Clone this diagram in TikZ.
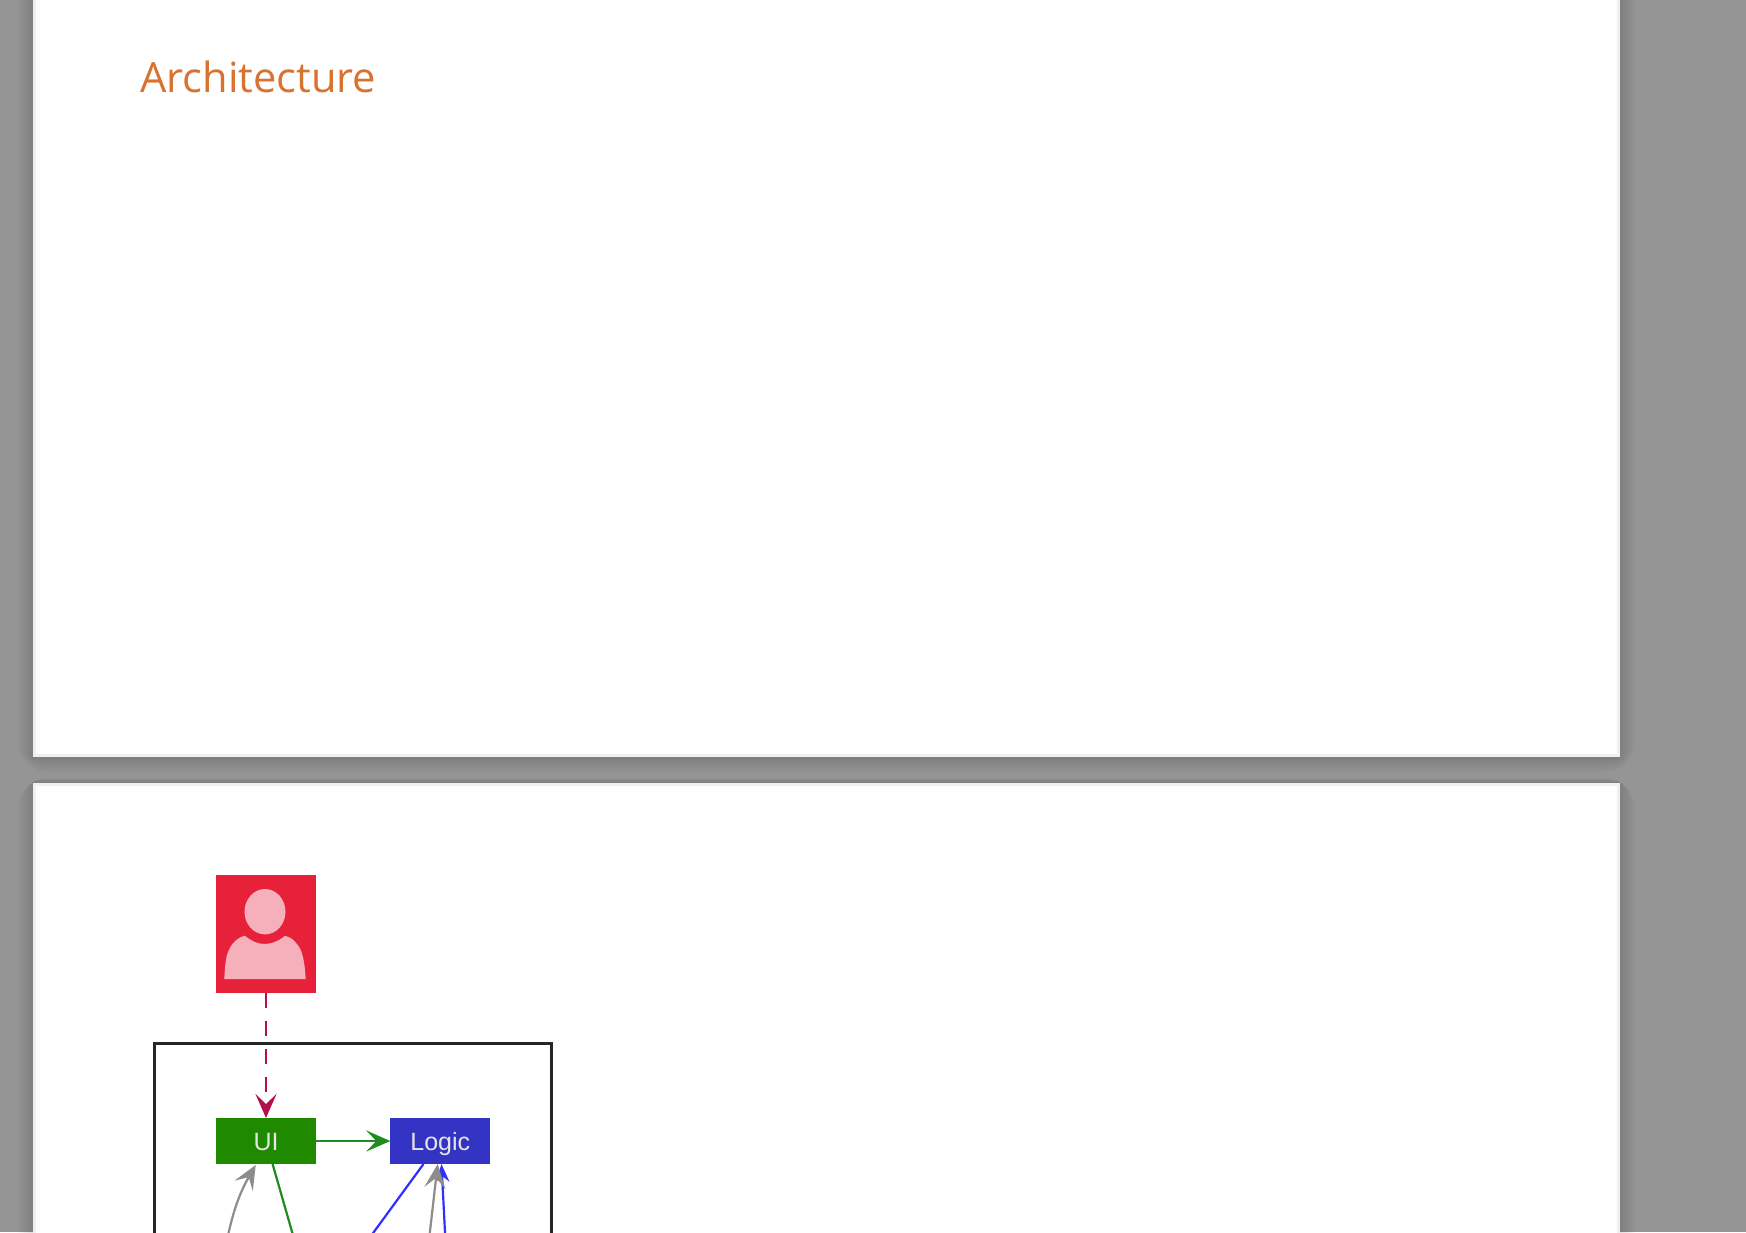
\documentclass[tikz,border=0pt]{standalone}
\usepackage{fontspec}
\setmainfont{Liberation Sans}
\newfontfamily\titlefont{Open Sans}
\usetikzlibrary{arrows.meta}
\definecolor{desk}{HTML}{959595}
\definecolor{sheetedge}{HTML}{F0F0F0}
\definecolor{heading}{HTML}{D9722F}
\definecolor{userred}{HTML}{E8213A}
\definecolor{userpink}{HTML}{F5B0BC}
\definecolor{uigreen}{HTML}{1F8A00}
\definecolor{logicblue}{HTML}{3333C4}
\definecolor{usercrimson}{HTML}{B0104C}
\definecolor{linegreen}{HTML}{1E8C1E}
\definecolor{lineblue}{HTML}{3030FF}

\begin{document}
\begin{tikzpicture}[x=0.5pt,y=-0.5pt,
            sheet/.style={draw=sheetedge,fill=white,line width=1.5pt},
            unit/.style={minimum width=50pt,minimum height=23pt,inner sep=0pt,outer sep=0pt,
              text=white!90!black,text height=9.3pt,text depth=0pt,font=\fontsize{12.5}{14}\selectfont},
            arrow/.style={-{Stealth[length=12pt,width=10.5pt,inset=5pt]},line width=1.1pt},
            smallarrow/.style={-{Stealth[length=9pt,width=7pt,inset=3pt]},line width=1.1pt}
          ]
          \useasboundingbox (0,0) rectangle (1746,1232);
          \clip (0,0) rectangle (1746,1232);
          \fill[desk] (0,0) rectangle (1746,1232);

          \foreach \s in {3,6,...,15} {
          \fill[black,opacity=.022,rounded corners=\s pt] (33-\s,-40) rectangle (1620+\s,757+\s);
          \fill[black,opacity=.022,rounded corners=\s pt] (33-\s,782-\s/4) rectangle (1620+\s,1300);
          }
          \draw[sheet] (34.5,-40) rectangle (1618.5,755);
          \draw[sheet] (34.5,784) rectangle (1618.5,1300);

          \node[anchor=base west,inner sep=0pt,text=heading,font=\titlefont\fontsize{20.8}{26}\selectfont]
          (title) at (140,92) {Architecture};

          \node[fill=userred,minimum width=50pt,minimum height=59pt,inner sep=0pt,outer sep=0pt] (user) at (266,934) {};
          \fill[userpink] (265,911.7) ellipse [x radius=20.5,y radius=22.7];
          \fill[userpink] (224.3,979) .. controls (225,965) and (226,955) .. (229,950)
          .. controls (231,944) and (238,937) .. (245,935.7)
          .. controls (251,941) and (258,944) .. (264.3,944)
          .. controls (271,944) and (279,941) .. (285,935.7)
          .. controls (292,937) and (298,944) .. (300.7,950)
          .. controls (303,955) and (305,965) .. (305.7,979) -- cycle;

          \node[draw=black!85,line width=1.5pt,minimum width=198.5pt,minimum height=200pt,inner sep=0pt] (frame) at (353,1243) {};

          \node[unit,fill=uigreen] (ui) at (266,1141) {UI};
          \node[unit,fill=logicblue] (logic) at (440.3,1141) {Logic};

          \coordinate (uiOut) at (294.4,1240);
          \coordinate (uiIn) at (227,1240);
          \coordinate (logicOutLeft) at (368,1240);
          \coordinate (logicInGray) at (429,1240);
          \coordinate (logicInBlue) at (445.4,1240);

          \draw[usercrimson,line width=1.2pt,dash pattern=on 7.5pt off 6.5pt,
          -{Stealth[length=12pt,width=10.5pt,inset=5pt]}] (user) -- (ui);
          \draw[arrow,linegreen] (ui) -- (logic);
          \draw[linegreen,line width=1.1pt] (ui) -- (uiOut);
          \draw[lineblue,line width=1.1pt] (logic) -- (logicOutLeft);
          \draw[smallarrow,lineblue] (logicInBlue) -- (logic);
          \draw[arrow,black!45] (logicInGray) -- (logic);
          \draw[arrow,black!45] (uiIn) to[bend left=9] (255.7,1165);
          \end{tikzpicture}
\end{document}
